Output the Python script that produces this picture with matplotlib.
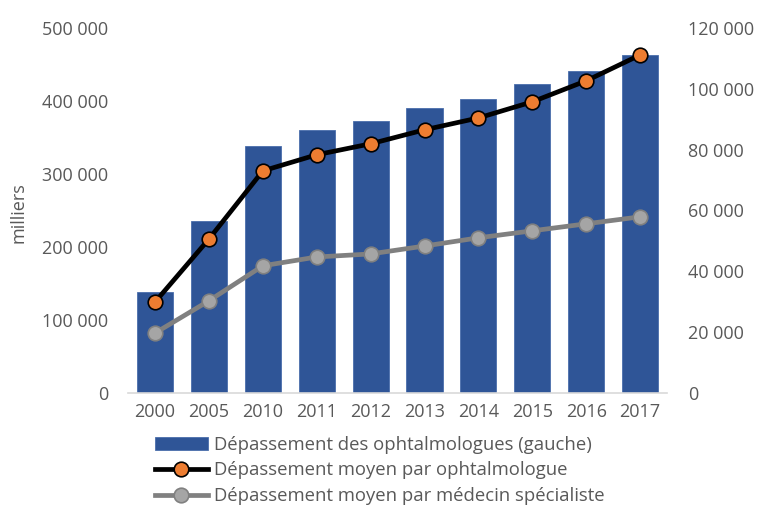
import matplotlib
matplotlib.use("Agg")
import matplotlib.pyplot as plt
from matplotlib.ticker import FuncFormatter

plt.rcParams['font.family'] = ['Open Sans', 'DejaVu Sans']

# données
annees = ['2000', '2005', '2010', '2011', '2012', '2013', '2014', '2015', '2016', '2017']
depassement_total = [138500, 235600, 338400, 360300, 372600, 390400, 402700, 423300, 441100, 463000]
moyen_ophtalmo = [29900, 50600, 73000, 78300, 81900, 86500, 90400, 95700, 102600, 111100]
moyen_specialiste = [19700, 30300, 41800, 44700, 45700, 48300, 51000, 53300, 55600, 57900]

gris_txt = '#595959'
fmt = FuncFormatter(lambda v, p: '{:,.0f}'.format(v).replace(',', ' '))

fig = plt.figure(figsize=(7.58, 5.07), dpi=100)
ax = fig.add_axes([0.169, 0.2249, 0.711, 0.7201])
ax2 = ax.twinx()

x = range(len(annees))
b = ax.bar(x, depassement_total, width=0.67, color='#2F5597', edgecolor='#4a6eab', linewidth=0.6,
           label='Dépassement des ophtalmologues (gauche)', zorder=1)
l1, = ax2.plot(x, moyen_ophtalmo, color='black', lw=3.4, marker='o', ms=10.5,
               mfc='#ED7D31', mec='black', mew=1.2, label='Dépassement moyen par ophtalmologue', zorder=3)
l2, = ax2.plot(x, moyen_specialiste, color='#808080', lw=3.4, marker='o', ms=10.5,
               mfc='#A5A5A5', mec='#808080', mew=1.2, label='Dépassement moyen par médecin spécialiste', zorder=2)

ax.set_xlim(-0.5, len(annees) - 0.5)
ax.set_ylim(0, 500000)
ax2.set_ylim(0, 120000)
ax.set_yticks(range(0, 500001, 100000))
ax2.set_yticks(range(0, 120001, 20000))
ax.yaxis.set_major_formatter(fmt)
ax2.yaxis.set_major_formatter(fmt)
ax.set_xticks(list(x))
ax.set_xticklabels(annees)

for a in (ax, ax2):
    for s in a.spines.values():
        s.set_visible(False)
    a.tick_params(length=0, labelsize=13, labelcolor=gris_txt)
ax.spines['bottom'].set_visible(True)
ax.spines['bottom'].set_color('#D9D9D9')
ax.spines['bottom'].set_linewidth(1.2)
ax.tick_params(axis='y', pad=14.5)
ax.tick_params(axis='x', pad=7)
ax2.tick_params(axis='y', pad=15)

fig.text(0.024, 0.58, 'milliers', rotation=90, va='center', ha='center', fontsize=13, color=gris_txt)

fig.legend(handles=[b, l1, l2], loc='upper left', bbox_to_anchor=(0.204, 0.141), frameon=False,
           fontsize=13.3, labelcolor=gris_txt, handlelength=2.9, handletextpad=0.3,
           labelspacing=0.42, borderpad=0, borderaxespad=0)

fig.savefig('out.png', dpi=100)
